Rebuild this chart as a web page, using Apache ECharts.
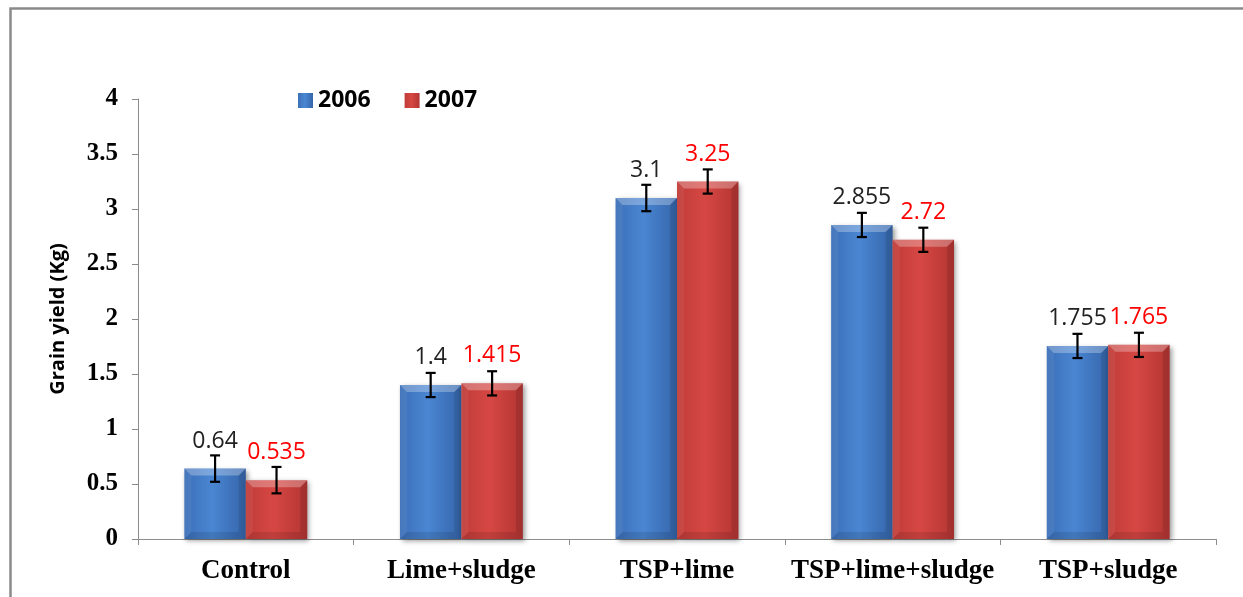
<!DOCTYPE html>
<html>
<head>
<meta charset="utf-8">
<script src="https://cdn.jsdelivr.net/npm/echarts@6/dist/echarts.min.js"></script>
<style>
html,body{margin:0;padding:0;background:#fff;}
#chart{width:1243px;height:597px;}
</style>
</head>
<body>
<div id="chart"></div>
<script>
const categories = ['Control', 'Lime+sludge', 'TSP+lime', 'TSP+lime+sludge', 'TSP+sludge'];
const seriesNames = ['2006', '2007'];
const y2006 = [0.64, 1.4, 3.1, 2.855, 1.755];
const y2007 = [0.535, 1.415, 3.25, 2.72, 1.765];
const err2006 = [0.12, 0.11, 0.12, 0.11, 0.11];
const err2007 = [0.12, 0.11, 0.11, 0.11, 0.11];
const yMin = 0, yMax = 4, yStep = 0.5;

const BAR_CAT_GAP = 0.43;

const blueGrad = new echarts.graphic.LinearGradient(0, 0, 1, 0, [
  {offset: 0, color: '#3c6fb8'},
  {offset: 0.45, color: '#4a86d2'},
  {offset: 1, color: '#3565aa'}
]);
const redGrad = new echarts.graphic.LinearGradient(0, 0, 1, 0, [
  {offset: 0, color: '#c03c39'},
  {offset: 0.45, color: '#d64743'},
  {offset: 1, color: '#b33533'}
]);

function overlay(sign) {
  return function (params, api) {
    const idx = api.value(0), v = api.value(1), e = api.value(2);
    const band = api.size([1, 0])[0];
    const barW = band * (1 - BAR_CAT_GAP) / 2;
    const cTop = api.coord([idx, v]);
    const xc = cTop[0] + sign * barW / 2;
    const xl = xc - barW / 2, xr = xc + barW / 2;
    const yt = cTop[1];
    const y0 = api.coord([idx, 0])[1];
    const b = 7;
    const yHi = api.coord([idx, v + e])[1];
    const yLo = api.coord([idx, v - e])[1];
    const cap = 5;
    return {
      type: 'group',
      children: [
        {type: 'polygon', shape: {points: [[xl, yt], [xr, yt], [xr - b, yt + b], [xl + b, yt + b]]}, style: {fill: 'rgba(255,255,255,0.28)'}},
        {type: 'polygon', shape: {points: [[xr, yt], [xr, y0], [xr - b, y0 - b], [xr - b, yt + b]]}, style: {fill: 'rgba(0,0,0,0.1)'}},
        {type: 'polygon', shape: {points: [[xl, y0], [xr, y0], [xr - b, y0 - b], [xl + b, y0 - b]]}, style: {fill: 'rgba(0,0,0,0.1)'}},
        {type: 'polygon', shape: {points: [[xl, yt], [xl + b, yt + b], [xl + b, y0 - b], [xl, y0]]}, style: {fill: 'rgba(255,255,255,0.06)'}},
        {type: 'line', shape: {x1: xc, y1: yHi, x2: xc, y2: yLo}, style: {stroke: '#000', lineWidth: 2.2}},
        {type: 'line', shape: {x1: xc - cap, y1: yHi, x2: xc + cap, y2: yHi}, style: {stroke: '#000', lineWidth: 2.2}},
        {type: 'line', shape: {x1: xc - cap, y1: yLo, x2: xc + cap, y2: yLo}, style: {stroke: '#000', lineWidth: 2.2}}
      ]
    };
  };
}

const chart = echarts.init(document.getElementById('chart'), null, {renderer: 'canvas'});
const option = {
  animation: false,
  backgroundColor: '#fff',
  graphic: [{
    type: 'rect', left: 8, top: 6, z: -10,
    shape: {x: 0, y: 0, width: 1260, height: 620},
    style: {fill: 'none', stroke: '#8a8a8a', lineWidth: 2.5}
  }],
  legend: {
    data: seriesNames,
    left: 293, top: 84,
    icon: 'rect', itemWidth: 15, itemHeight: 15, itemGap: 34,
    textStyle: {fontFamily: 'Open Sans', fontWeight: 'bold', fontSize: 23, color: '#000'}
  },
  grid: {left: 138, right: 27, top: 99, bottom: 58, containLabel: false},
  xAxis: {
    type: 'category', data: categories,
    axisLine: {lineStyle: {color: '#8c8c8c', width: 1}},
    axisTick: {show: true, interval: 0, length: 6, lineStyle: {color: '#8c8c8c'}},
    axisLabel: {interval: 0, fontFamily: 'Liberation Serif', fontWeight: 'bold', fontSize: 27, color: '#000', margin: 19}
  },
  yAxis: {
    type: 'value', min: yMin, max: yMax, interval: yStep,
    name: 'Grain yield (Kg)', nameLocation: 'middle', nameGap: 70, nameRotate: 90,
    nameTextStyle: {fontFamily: 'Open Sans', fontWeight: 'bold', fontSize: 20, color: '#000'},
    axisLine: {show: true, lineStyle: {color: '#8c8c8c', width: 1}},
    axisTick: {show: true, length: 6, lineStyle: {color: '#8c8c8c'}},
    splitLine: {show: false},
    axisLabel: {fontFamily: 'Liberation Serif', fontWeight: 'bold', fontSize: 25, color: '#000', margin: 20}
  },
  series: [
    {
      name: '2006', type: 'bar', data: y2006, barGap: '0%', barCategoryGap: (BAR_CAT_GAP * 100) + '%',
      itemStyle: {color: blueGrad, shadowBlur: 5, shadowColor: 'rgba(0,0,0,0.4)', shadowOffsetX: 2, shadowOffsetY: 2},
      label: {show: true, position: 'top', distance: 16, fontFamily: 'Open Sans', fontSize: 23, color: '#222'}
    },
    {
      name: '2007', type: 'bar', data: y2007, barGap: '0%', barCategoryGap: (BAR_CAT_GAP * 100) + '%',
      itemStyle: {color: redGrad, shadowBlur: 5, shadowColor: 'rgba(0,0,0,0.4)', shadowOffsetX: 2, shadowOffsetY: 2},
      label: {show: true, position: 'top', distance: 16, fontFamily: 'Open Sans', fontSize: 23, color: '#ff0000'}
    },
    {
      type: 'custom', name: 'err2006', renderItem: overlay(-1), z: 5,
      data: y2006.map((v, i) => [i, v, err2006[i]]), silent: true, tooltip: {show: false}
    },
    {
      type: 'custom', name: 'err2007', renderItem: overlay(1), z: 5,
      data: y2007.map((v, i) => [i, v, err2007[i]]), silent: true, tooltip: {show: false}
    }
  ]
};
chart.setOption(option);
</script>
</body>
</html>
